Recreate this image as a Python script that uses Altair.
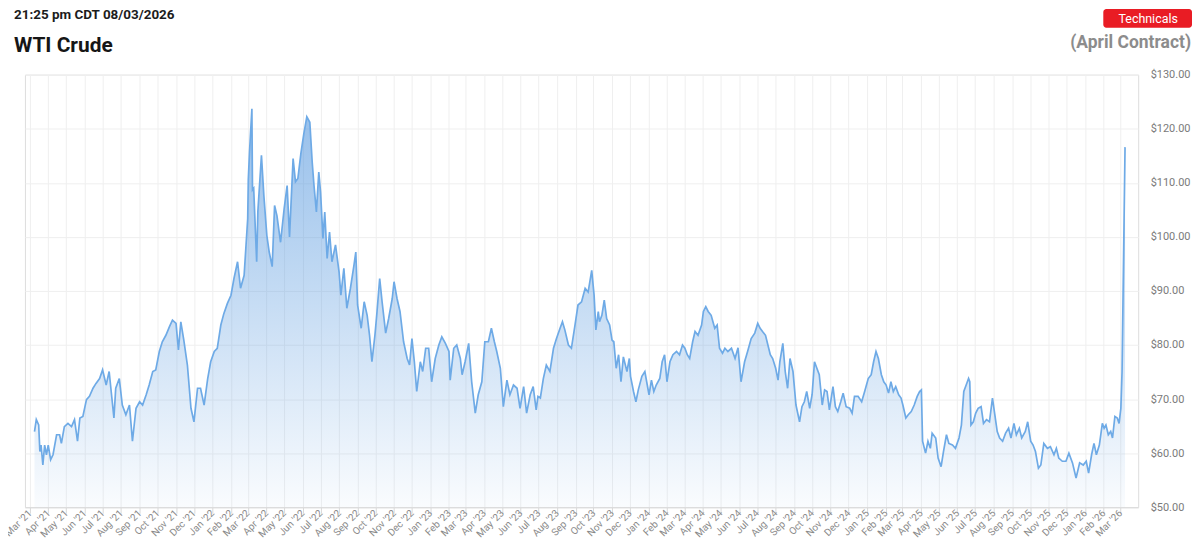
import altair as alt
import pandas as pd

TIMESTAMP = "21:25 pm CDT 08/03/2026"
TITLE = "WTI Crude"
CONTRACT = "(April Contract)"
BUTTON = "Technicals"
Y_TICKS = [50, 60, 70, 80, 90, 100, 110, 120, 130]

DATES = [
    "2021-03-09", "2021-03-12", "2021-03-16", "2021-03-18", "2021-03-20", "2021-03-23", "2021-03-26", "2021-03-29",
    "2021-04-01", "2021-04-05", "2021-04-09", "2021-04-15", "2021-04-20", "2021-04-23", "2021-04-28",
    "2021-05-04", "2021-05-10", "2021-05-15", "2021-05-20", "2021-05-24", "2021-05-29",
    "2021-06-04", "2021-06-09", "2021-06-15", "2021-06-20", "2021-06-26",
    "2021-07-01", "2021-07-07", "2021-07-12", "2021-07-20", "2021-07-23", "2021-07-29",
    "2021-08-03", "2021-08-09", "2021-08-15", "2021-08-20", "2021-08-26",
    "2021-09-01", "2021-09-06", "2021-09-12", "2021-09-17", "2021-09-23", "2021-09-28",
    "2021-10-04", "2021-10-09", "2021-10-15", "2021-10-21", "2021-10-26",
    "2021-11-01", "2021-11-05", "2021-11-09", "2021-11-14", "2021-11-20", "2021-11-26",
    "2021-12-01", "2021-12-07", "2021-12-12", "2021-12-18", "2021-12-24", "2021-12-29",
    "2022-01-04", "2022-01-09", "2022-01-15", "2022-01-20", "2022-01-26",
    "2022-02-01", "2022-02-06", "2022-02-12", "2022-02-17", "2022-02-23",
    "2022-03-01", "2022-03-02", "2022-03-04", "2022-03-08", "2022-03-09", "2022-03-11", "2022-03-16", "2022-03-18",
    "2022-03-24", "2022-03-28",
    "2022-04-02", "2022-04-06", "2022-04-11", "2022-04-15", "2022-04-19", "2022-04-25",
    "2022-05-01", "2022-05-06", "2022-05-10", "2022-05-16", "2022-05-20", "2022-05-24", "2022-05-29",
    "2022-06-03", "2022-06-08", "2022-06-13", "2022-06-17", "2022-06-20", "2022-06-24", "2022-06-28",
    "2022-07-01", "2022-07-05", "2022-07-08", "2022-07-12", "2022-07-16", "2022-07-20", "2022-07-26",
    "2022-08-01", "2022-08-04", "2022-08-09", "2022-08-14", "2022-08-20", "2022-08-26", "2022-08-29",
    "2022-09-01", "2022-09-07", "2022-09-12", "2022-09-17", "2022-09-21", "2022-09-25", "2022-09-30",
    "2022-10-03", "2022-10-08", "2022-10-12", "2022-10-18", "2022-10-23", "2022-10-29",
    "2022-11-01", "2022-11-06", "2022-11-11", "2022-11-17", "2022-11-23", "2022-11-27",
    "2022-12-01", "2022-12-05", "2022-12-09", "2022-12-15", "2022-12-19", "2022-12-24", "2022-12-29",
    "2023-01-03", "2023-01-09", "2023-01-15", "2023-01-20", "2023-01-26",
    "2023-02-01", "2023-02-03", "2023-02-09", "2023-02-14", "2023-02-20", "2023-02-23", "2023-02-28",
    "2023-03-06", "2023-03-11", "2023-03-17", "2023-03-22", "2023-03-28",
    "2023-04-02", "2023-04-08", "2023-04-13", "2023-04-18", "2023-04-22", "2023-04-28",
    "2023-05-03", "2023-05-09", "2023-05-14", "2023-05-20", "2023-05-26", "2023-05-31",
    "2023-06-06", "2023-06-11", "2023-06-17", "2023-06-22", "2023-06-27", "2023-06-30",
    "2023-07-04", "2023-07-09", "2023-07-14", "2023-07-20", "2023-07-26", "2023-07-31",
    "2023-08-06", "2023-08-10", "2023-08-14", "2023-08-20", "2023-08-25", "2023-08-31",
    "2023-09-05", "2023-09-11", "2023-09-17", "2023-09-22", "2023-09-28",
    "2023-10-02", "2023-10-05", "2023-10-09", "2023-10-11", "2023-10-15", "2023-10-19", "2023-10-23", "2023-10-28",
    "2023-11-01", "2023-11-04", "2023-11-08", "2023-11-12", "2023-11-16", "2023-11-20", "2023-11-26", "2023-11-30",
    "2023-12-02", "2023-12-07", "2023-12-11", "2023-12-15", "2023-12-21", "2023-12-26", "2023-12-30",
    "2024-01-02", "2024-01-06", "2024-01-10", "2024-01-14", "2024-01-20", "2024-01-24", "2024-01-28",
    "2024-02-01", "2024-02-06", "2024-02-11", "2024-02-17", "2024-02-22", "2024-02-27",
    "2024-03-02", "2024-03-06", "2024-03-10", "2024-03-15", "2024-03-19", "2024-03-24", "2024-03-30",
    "2024-04-02", "2024-04-06", "2024-04-10", "2024-04-15", "2024-04-21", "2024-04-25", "2024-04-29",
    "2024-05-04", "2024-05-08", "2024-05-13", "2024-05-19", "2024-05-25", "2024-05-30",
    "2024-06-04", "2024-06-10", "2024-06-15", "2024-06-21", "2024-06-27",
    "2024-07-02", "2024-07-06", "2024-07-10", "2024-07-15", "2024-07-19", "2024-07-23", "2024-07-27",
    "2024-08-01", "2024-08-05", "2024-08-08", "2024-08-13", "2024-08-17", "2024-08-21", "2024-08-25", "2024-08-30",
    "2024-09-04", "2024-09-10", "2024-09-14", "2024-09-18", "2024-09-22", "2024-09-27",
    "2024-10-01", "2024-10-05", "2024-10-09", "2024-10-13", "2024-10-18", "2024-10-22", "2024-10-26", "2024-10-30",
    "2024-11-05", "2024-11-09", "2024-11-13", "2024-11-18", "2024-11-22", "2024-11-27",
    "2024-12-03", "2024-12-07", "2024-12-11", "2024-12-17", "2024-12-23", "2024-12-28",
    "2025-01-03", "2025-01-08", "2025-01-12", "2025-01-16", "2025-01-20", "2025-01-25", "2025-01-29",
    "2025-02-02", "2025-02-06", "2025-02-10", "2025-02-14", "2025-02-18", "2025-02-23", "2025-02-27",
    "2025-03-02", "2025-03-07", "2025-03-11", "2025-03-16", "2025-03-21", "2025-03-26", "2025-03-30",
    "2025-04-02", "2025-04-04", "2025-04-09", "2025-04-13", "2025-04-17", "2025-04-20", "2025-04-26", "2025-04-30",
    "2025-05-05", "2025-05-09", "2025-05-14", "2025-05-18", "2025-05-24", "2025-05-29",
    "2025-06-04", "2025-06-08", "2025-06-12", "2025-06-16", "2025-06-20", "2025-06-22", "2025-06-24", "2025-06-28",
    "2025-07-02", "2025-07-06", "2025-07-11", "2025-07-15", "2025-07-20", "2025-07-25", "2025-07-30",
    "2025-08-03", "2025-08-07", "2025-08-11", "2025-08-16", "2025-08-21", "2025-08-26", "2025-08-30",
    "2025-09-04", "2025-09-08", "2025-09-13", "2025-09-17", "2025-09-23", "2025-09-27",
    "2025-10-02", "2025-10-06", "2025-10-10", "2025-10-15", "2025-10-19", "2025-10-24", "2025-10-30",
    "2025-11-04", "2025-11-10", "2025-11-14", "2025-11-18", "2025-11-24", "2025-11-30",
    "2025-12-05", "2025-12-11", "2025-12-17", "2025-12-23", "2025-12-29",
    "2026-01-03", "2026-01-07", "2026-01-12", "2026-01-16", "2026-01-20", "2026-01-25", "2026-01-30",
    "2026-02-02", "2026-02-05", "2026-02-09", "2026-02-13", "2026-02-16", "2026-02-20", "2026-02-24", "2026-02-27",
    "2026-03-02", "2026-03-04", "2026-03-09",
]

PRICES = [
    64.0, 66.2, 65.2, 60.3, 61.5, 57.8, 61.5, 59.7,
    61.5, 58.8, 59.7, 63.4, 63.4, 61.8, 64.9,
    65.5, 64.9, 66.2, 62.2, 66.5, 66.8,
    69.9, 70.5, 72.0, 72.9, 73.8,
    75.4, 72.6, 75.1, 66.5, 72.0, 73.8,
    68.9, 67.1, 68.9, 62.2, 68.3,
    69.5, 68.9, 70.8, 72.6, 75.1, 75.4,
    78.8, 80.6, 81.8, 83.4, 84.6,
    84.0, 79.1, 84.3, 80.9, 76.3, 68.3,
    65.8, 72.0, 72.0, 68.9, 73.8, 76.9,
    78.8, 79.4, 83.7, 85.8, 87.7,
    89.2, 92.3, 95.4, 90.5, 92.9,
    103.4, 110.6, 115.7, 123.7, 108.7, 109.0, 95.4, 104.7,
    115.1, 107.7,
    100.3, 97.2, 94.5, 105.8, 103.9, 99.0,
    105.2, 109.5, 100.0, 114.5, 110.2, 110.8, 115.4,
    119.1, 122.2, 121.2, 113.8, 109.5, 104.6, 112.0,
    108.3, 99.7, 104.6, 96.0, 100.9, 95.4, 98.5,
    93.5, 89.2, 94.2, 86.8, 90.5, 94.8, 97.2,
    87.4, 83.1, 88.0, 85.5, 81.8, 76.9, 81.8,
    85.5, 92.3, 88.0, 82.2, 84.9, 88.6,
    91.7, 88.6, 86.2, 80.6, 77.5, 76.3,
    81.2, 76.9, 71.4, 76.9, 75.1, 79.4, 79.4,
    73.2, 77.5, 80.0, 81.5, 80.3,
    78.8, 73.5, 79.4, 80.0, 77.5, 74.5, 76.9,
    80.3, 73.2, 67.4, 70.8, 73.2,
    80.6, 80.6, 83.1, 80.6, 78.8, 75.7,
    68.6, 73.5, 70.8, 72.6, 72.0, 68.3,
    72.3, 67.4, 70.8, 72.3, 68.0, 70.5,
    70.2, 73.8, 76.3, 75.1, 79.4, 81.2,
    83.1, 84.3, 82.8, 80.0, 79.4, 83.7,
    87.4, 88.0, 90.5, 89.8, 93.8,
    89.2, 82.8, 86.2, 84.3, 85.5, 88.3, 84.9, 83.7,
    80.9, 80.6, 75.7, 78.2, 73.2, 77.8, 75.1, 77.5,
    74.2, 71.4, 69.5, 71.7, 74.2, 75.1, 72.6,
    70.8, 73.5, 71.4, 72.6, 73.8, 76.9, 78.2,
    73.2, 76.9, 78.2, 78.8, 78.2, 80.0,
    79.4, 78.2, 77.5, 80.6, 82.5, 81.8, 83.7,
    86.2, 87.1, 86.2, 85.5, 83.1, 83.7, 79.4,
    78.5, 79.4, 78.8, 79.4, 77.5, 79.5,
    73.2, 76.9, 78.8, 81.2, 82.2,
    84.0, 83.1, 82.5, 81.8, 80.0, 78.2, 77.5,
    75.7, 73.5, 76.9, 80.3, 75.1, 72.0, 77.5, 75.1,
    68.9, 65.8, 68.6, 69.5, 71.4, 68.3,
    70.8, 76.9, 75.7, 74.5, 68.9, 71.7, 71.4, 68.0,
    72.3, 68.6, 67.7, 69.5, 71.1, 68.6,
    68.3, 67.4, 70.5, 70.5, 69.5, 71.4,
    73.8, 74.5, 76.9, 78.8, 77.5, 74.5, 73.2,
    72.6, 71.1, 73.2, 71.4, 72.3, 70.8, 70.2,
    68.9, 66.5, 67.1, 67.7, 68.9, 70.5, 71.4,
    71.7, 62.2, 60.0, 62.2, 60.9, 63.7, 62.8, 59.1,
    57.5, 60.3, 63.4, 61.8, 61.5, 60.9,
    62.8, 65.2, 71.4, 72.6, 73.8, 73.2, 65.2, 65.8,
    67.4, 68.3, 68.6, 65.5, 66.2, 65.8, 70.2,
    67.1, 64.0, 62.8, 62.2, 63.7, 64.6, 62.8,
    65.5, 63.4, 64.6, 62.8, 64.0, 65.8,
    62.2, 61.5, 60.3, 57.2, 57.8, 61.8, 60.9,
    61.2, 59.7, 60.9, 59.1, 58.5, 58.5,
    60.0, 58.2, 55.4, 58.2, 57.8,
    58.5, 56.3, 59.7, 61.8, 59.7, 61.5, 65.5,
    64.6, 65.2, 63.4, 64.0, 62.8, 66.8, 66.5, 65.5,
    68.3, 75.1, 116.6,
]

df = pd.DataFrame({"date": pd.to_datetime(DATES), "price": PRICES})

W, H = 1117, 434
FONT = "Roboto"

x_enc = alt.X(
    "date:T",
    title=None,
    scale=alt.Scale(domain=[alt.DateTime(year=2021, month=2, date=21),
                            alt.DateTime(year=2026, month=3, date=31)]),
    axis=alt.Axis(
        format="%b '%y",
        tickCount={"interval": "month", "step": 1},
        labelAngle=315,
        labelAlign="right",
        labelBaseline="middle",
        labelOverlap=False,
        labelFlush=False,
        labelBound=False,
        labelFontSize=10,
        labelColor="#8a8a8a",
        labelFont=FONT,
        labelPadding=-2,
        tickSize=6,
        tickColor="#d9d9d9",
        domainColor="#d9d9d9",
        grid=True,
        gridColor="#efefef",
    ),
)
y_enc = alt.Y(
    "price:Q",
    title=None,
    scale=alt.Scale(domain=[50, 130], nice=False, zero=False),
    axis=alt.Axis(
        orient="right",
        values=Y_TICKS,
        format="$.2f",
        labelFontSize=11,
        labelColor="#7a7a7a",
        labelFont=FONT,
        labelPadding=12,
        ticks=False,
        domain=False,
        grid=True,
        gridColor="#efefef",
    ),
)

gradient = alt.Gradient(
    gradient="linear",
    stops=[
        alt.GradientStop(color="rgba(86,152,222,0.62)", offset=0),
        alt.GradientStop(color="rgba(86,152,222,0.33)", offset=0.5),
        alt.GradientStop(color="rgba(86,152,222,0.03)", offset=1),
    ],
    x1=1, x2=1, y1=0, y2=1,
)

base = alt.Chart(df)
area = base.mark_area(color=gradient).encode(x=x_enc, y=y_enc, y2=alt.datum(50))
line = base.mark_line(color="#6eaae6", strokeWidth=1.7).encode(x=x_enc, y=y_enc)

one = pd.DataFrame({"k": [0]})
stamp = alt.Chart(one).mark_text(
    text=TIMESTAMP, font=FONT, fontSize=13.5, fontWeight="bold", color="#1c1c1c",
    align="left", baseline="alphabetic",
).encode(x=alt.value(-11), y=alt.value(-55.5))
title = alt.Chart(one).mark_text(
    text=TITLE, font=FONT, fontSize=21, fontWeight="bold", color="#161616",
    align="left", baseline="alphabetic",
).encode(x=alt.value(-11), y=alt.value(-23))
contract = alt.Chart(one).mark_text(
    text=CONTRACT, font=FONT, fontSize=17.5, fontWeight="bold", color="#8c8c8c",
    align="right", baseline="alphabetic",
).encode(x=alt.value(1170), y=alt.value(-27))
button = alt.Chart(one).mark_rect(color="#e91c24", cornerRadius=3).encode(
    x=alt.value(1082), x2=alt.value(1171), y=alt.value(-66), y2=alt.value(-47)
)
button_text = alt.Chart(one).mark_text(
    text=BUTTON, font=FONT, fontSize=12.5, color="#ffffff",
    align="center", baseline="alphabetic",
).encode(x=alt.value(1127), y=alt.value(-52))

chart = alt.layer(area, line, stamp, title, contract, button, button_text).properties(
    width=W, height=H,
    autosize=alt.AutoSizeParams(type="none"),
    padding={"left": 17, "top": 66, "right": 54, "bottom": 32},
).configure_view(strokeWidth=0).configure(font=FONT, background="#ffffff")

chart.save("out.html", embed_options={"renderer": "svg", "actions": False})
